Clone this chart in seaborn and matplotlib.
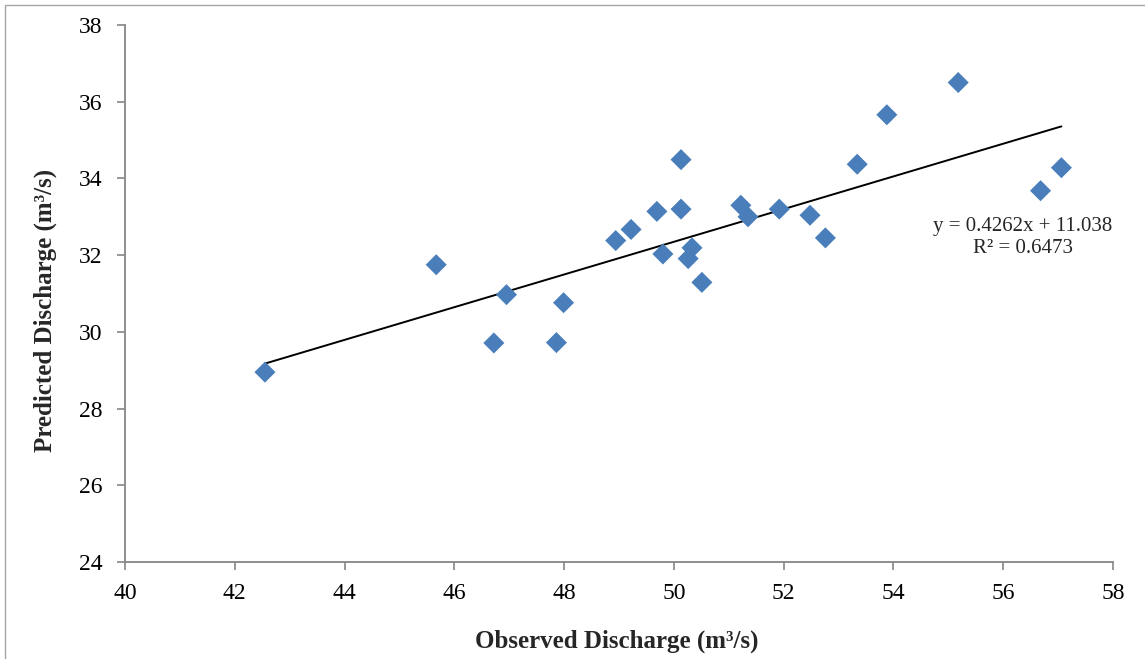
import matplotlib
matplotlib.use("Agg")
import matplotlib.pyplot as plt
import seaborn as sns
import numpy as np
import pandas as pd
from matplotlib.patches import Rectangle

observed = [42.55, 45.67, 46.95, 46.72, 47.99, 47.86, 48.94, 49.22, 49.69, 50.13,
            50.13, 49.80, 50.33, 50.26, 50.51, 51.22, 51.35, 51.92, 52.48, 52.76,
            55.18, 53.88, 53.34, 57.06, 56.68]
predicted = [28.95, 31.75, 30.97, 29.71, 30.76, 29.72, 32.38, 32.67, 33.14, 33.20,
             34.49, 32.03, 32.19, 31.91, 31.29, 33.30, 33.00, 33.20, 33.04, 32.45,
             36.50, 35.66, 34.37, 34.28, 33.68]
slope = 0.4262
intercept = 11.038
r2 = 0.6473
x_ticks = [40, 42, 44, 46, 48, 50, 52, 54, 56, 58]
y_ticks = [24, 26, 28, 30, 32, 34, 36, 38]

sns.set_theme(style="white")
plt.rcParams['font.family'] = ['Liberation Serif', 'DejaVu Serif']

W, H = 1145, 659
fig = plt.figure(figsize=(W / 100, H / 100), dpi=100)
L, R, T, B = 125, 1113, 25, 562
ax = fig.add_axes([L / W, 1 - B / H, (R - L) / W, (B - T) / H])

# outer chart-area border
fig.patches.append(Rectangle((5 / W, -0.05), 1.2, 1 - 5 / H + 0.05, transform=fig.transFigure,
                             fill=False, edgecolor="#A6A6A6", linewidth=1.0))

df = pd.DataFrame({"Observed": observed, "Predicted": predicted})
sns.scatterplot(data=df, x="Observed", y="Predicted", marker="D", s=115,
                color="#4A7EBB", edgecolor="none", ax=ax, zorder=3)

xs = np.array([min(observed), max(observed)])
line_df = pd.DataFrame({"x": xs, "y": slope * xs + intercept})
sns.lineplot(data=line_df, x="x", y="y", color="black", linewidth=1.4, ax=ax, zorder=2)

ax.set_xlim(40, 58)
ax.set_ylim(24, 38)
ax.set_xticks(x_ticks)
ax.set_yticks(y_ticks)
ax.set_xticklabels([str(t) for t in x_ticks], fontsize=17)
ax.set_yticklabels([str(t) for t in y_ticks], fontsize=17)
for s in ["top", "right"]:
    ax.spines[s].set_visible(False)
for s in ["left", "bottom"]:
    ax.spines[s].set_color("#868686")
    ax.spines[s].set_linewidth(1.3)
ax.tick_params(axis="both", direction="out", length=6, width=1.2, color="#868686",
               labelcolor="black")
ax.tick_params(axis="x", bottom=True, pad=9)
ax.tick_params(axis="y", left=True, pad=10)

ax.set_xlabel("Observed Discharge (m³/s)", fontsize=18, fontweight="bold")
ax.set_ylabel("Predicted Discharge (m³/s)", fontsize=18, fontweight="bold")
ax.xaxis.set_label_coords((617 - L) / (R - L), (B - 641) / (B - T))
ax.yaxis.set_label_coords((45 - L) / (R - L), (B - 310) / (B - T))
ax.xaxis.label.set_verticalalignment("center")
ax.yaxis.label.set_verticalalignment("center")

ax.text(56.36, 32.46, f"y = {slope}x + {intercept}\nR² = {r2}", fontsize=15,
        ha="center", va="center", linespacing=1.2)

fig.savefig("out.png", dpi=100)
